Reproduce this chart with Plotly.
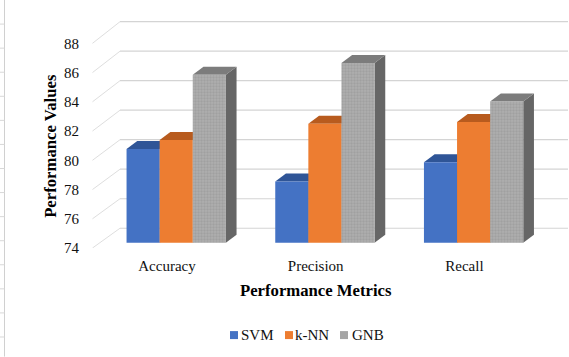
import plotly.graph_objects as go

categories = ["Accuracy", "Precision", "Recall"]
svm = [80.36, 78.15, 79.46]
knn = [80.97, 82.06, 82.19]
gnb = [85.38, 86.19, 83.57]
series_names = ["SVM", "k-NN", "GNB"]
series_values = [svm, knn, gnb]
face_colors = ["#4472C4", "#ED7D31", "#A5A5A5"]
top_colors = ["#2F5597", "#B85B1E", "#7C7C7C"]
side_colors = ["#2F5597", "#B85B1E", "#666666"]
y_ticks = [74, 76, 78, 80, 82, 84, 86, 88]

W, H = 569, 357
L, R, T, B = 86, 569, 10, 248.3
GROUP_PX = 148.7
CENTER0_PX = 176.2
TICK_PX = 14.64
BAR_PX = 14.77
FONT = "Liberation Serif"

def xval(px):
    return (px - CENTER0_PX) / GROUP_PX

def xp(px):
    return (px - L) / (R - L)

def yp(py):
    return (B - py) / (B - T)

bar_w = 33.1 / GROUP_PX
dx = 10.7 / GROUP_PX
dy = 8.0 / BAR_PX
tick_y_range = [74, 74 + (B - T) / TICK_PX]
bar_y_range = [74 - (B - 243) / BAR_PX, 74 + (243 - T) / BAR_PX]

fig = go.Figure()

# side wall and back wall gridlines
for v in y_ticks:
    back = 74 + 1.352 + (v - 74) * 1.009
    fig.add_trace(go.Scatter(x=[xval(92.5), xval(120)], y=[v, back], mode="lines",
                             line=dict(color="#DEDEDE", width=1), hoverinfo="skip", showlegend=False))
    fig.add_trace(go.Scatter(x=[xval(120), xval(568)], y=[back, back], mode="lines",
                             line=dict(color="#D4D4D4", width=1.2), hoverinfo="skip", showlegend=False))

# bar tops and sides, beneath the front faces
for i, (vals, top, side) in enumerate(zip(series_values, top_colors, side_colors)):
    for g, v in enumerate(vals):
        x0 = g + (i - 1.5) * bar_w
        x1 = x0 + bar_w
        fig.add_trace(go.Scatter(x=[x1, x1 + dx, x1 + dx, x1, x1], y=[74, 74 + dy, v + dy, v, 74],
                                 mode="lines", fill="toself", fillcolor=side, line=dict(width=0),
                                 yaxis="y2", hoverinfo="skip", showlegend=False))
        fig.add_trace(go.Scatter(x=[x0, x1, x1 + dx, x0 + dx, x0], y=[v, v, v + dy, v + dy, v],
                                 mode="lines", fill="toself", fillcolor=top, line=dict(width=0),
                                 yaxis="y2", hoverinfo="skip", showlegend=False))

# front faces
for i, (name, vals, col) in enumerate(zip(series_names, series_values, face_colors)):
    marker = dict(color=col, line=dict(width=0))
    if name == "GNB":
        marker["pattern"] = dict(shape=".", size=3, solidity=0.45, fgcolor="#929292", bgcolor="#AEAEAE")
    fig.add_trace(go.Bar(x=[0, 1, 2], y=[v - 74 for v in vals], base=74, name=name, marker=marker,
                         width=bar_w, offset=(i - 1.5) * bar_w, yaxis="y3", showlegend=False))

shapes = []
# sheet cell border visible on the left edge of the picture
shapes.append(dict(type="line", xref="paper", yref="paper", x0=xp(4.5), x1=xp(4.5), y0=yp(0), y1=yp(357),
                   line=dict(color="#D0D0D0", width=1)))
for k in range(1, 15):
    py = 24.1 * k
    shapes.append(dict(type="line", xref="paper", yref="paper", x0=xp(0), x1=xp(4.5), y0=yp(py), y1=yp(py),
                       line=dict(color="#D8D8D8", width=1)))

# legend
annotations = []
legend_sq = [230, 285, 340]
legend_txt = [239, 293, 350]
for name, col, sq, tx in zip(series_names, face_colors, legend_sq, legend_txt):
    shapes.append(dict(type="rect", xref="paper", yref="paper", x0=xp(sq), x1=xp(sq + 8),
                       y0=yp(339.5), y1=yp(331.5), fillcolor=col, line=dict(width=0)))
    annotations.append(dict(text=name, xref="paper", yref="paper", x=xp(tx), y=yp(335.5), xanchor="left",
                            yanchor="middle", showarrow=False, font=dict(family=FONT, size=15, color="#111111")))

# axis titles
annotations.append(dict(text="<b>Performance Metrics</b>", xref="paper", yref="paper", x=xp(316), y=yp(290.5),
                        xanchor="center", yanchor="middle", showarrow=False,
                        font=dict(family=FONT, size=16.7, color="#000000")))
annotations.append(dict(text="<b>Performance Values</b>", xref="paper", yref="paper", x=xp(51), y=yp(146),
                        xanchor="center", yanchor="middle", textangle=-90, showarrow=False,
                        font=dict(family=FONT, size=16.7, color="#000000")))

fig.update_layout(
    width=W, height=H, autosize=False,
    margin=dict(l=L, r=W - R, t=T, b=H - B, pad=0),
    paper_bgcolor="white", plot_bgcolor="rgba(0,0,0,0)",
    showlegend=False, barmode="overlay",
    shapes=shapes, annotations=annotations,
    xaxis=dict(range=[xval(L), xval(R)], tickmode="array",
               tickvals=[g - 9.2 / GROUP_PX for g in range(3)], ticktext=categories,
               showgrid=False, zeroline=False, showline=False, ticks="outside", ticklen=4,
               tickcolor="rgba(0,0,0,0)", tickfont=dict(family=FONT, size=15, color="#111111")),
    yaxis=dict(range=tick_y_range, tickmode="array", tickvals=y_ticks, showgrid=False, zeroline=False,
               showline=False, ticks="outside", ticklen=3, tickcolor="rgba(0,0,0,0)",
               tickfont=dict(family=FONT, size=15, color="#111111")),
    yaxis2=dict(range=bar_y_range, overlaying="y", visible=False),
    yaxis3=dict(range=bar_y_range, overlaying="y", visible=False),
)

fig.write_html("out.html", config={"displayModeBar": False},
               post_script="document.body.style.margin='0';document.body.style.overflow='hidden';")
